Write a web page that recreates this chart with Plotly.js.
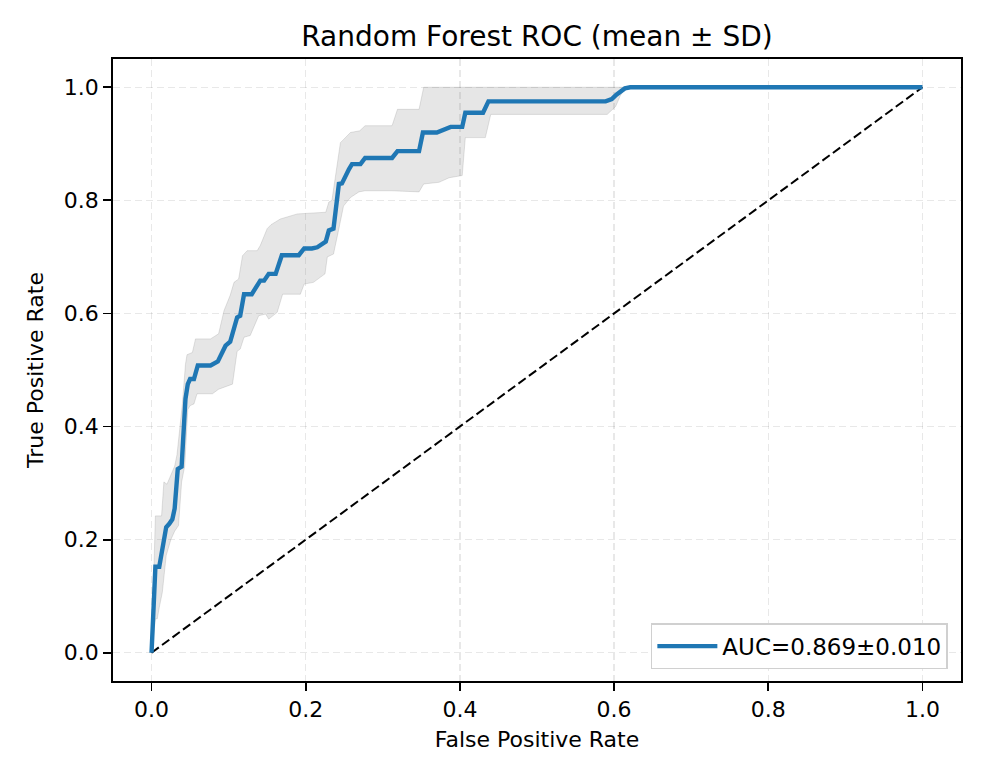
<!DOCTYPE html>
<html>
<head>
<meta charset="utf-8">
<script src="https://cdn.plot.ly/plotly-3.0.1.min.js"></script>
<style>
  html, body { margin: 0; padding: 0; background: white; }
  #chart { width: 986px; height: 781px; }
</style>
</head>
<body>
<div id="chart"></div>
<script>
// Random Forest ROC - mean curve with a +/- 1 SD band and the chance diagonal

// mean ROC curve
const meanFpr = [0, 0.005, 0.010, 0.015, 0.019, 0.023, 0.027, 0.030, 0.034, 0.039,
  0.044, 0.047, 0.050, 0.055, 0.060, 0.0765, 0.086, 0.096, 0.102, 0.111,
  0.115, 0.120, 0.130, 0.141, 0.146, 0.152, 0.161, 0.169, 0.191, 0.198,
  0.208, 0.215, 0.222, 0.226, 0.230, 0.236, 0.243, 0.247, 0.256, 0.260,
  0.271, 0.277, 0.312, 0.319, 0.347, 0.352, 0.370, 0.380, 0.388, 0.403,
  0.407, 0.430, 0.437, 0.589, 0.597, 0.603, 0.608, 0.614, 0.621, 1.0];
const meanTpr = [0, 0.152, 0.152, 0.190, 0.222, 0.228, 0.236, 0.255, 0.325, 0.329,
  0.449, 0.475, 0.484, 0.484, 0.508, 0.508, 0.515, 0.543, 0.550, 0.593,
  0.596, 0.634, 0.634, 0.658, 0.658, 0.670, 0.670, 0.703, 0.703, 0.715,
  0.715, 0.717, 0.722, 0.727, 0.747, 0.750, 0.829, 0.830, 0.855, 0.864,
  0.864, 0.875, 0.875, 0.887, 0.887, 0.920, 0.920, 0.925, 0.930, 0.930,
  0.955, 0.955, 0.975, 0.975, 0.979, 0.987, 0.993, 0.998, 1.0, 1.0];

// upper edge of the band (mean + SD, capped at 1)
const upperFpr = [0, 0.005, 0.013, 0.016, 0.020, 0.024, 0.030, 0.033, 0.040, 0.044,
  0.046, 0.053, 0.057, 0.0765, 0.087, 0.094, 0.102, 0.107, 0.113, 0.118,
  0.124, 0.137, 0.141, 0.150, 0.155, 0.167, 0.189, 0.226, 0.230, 0.234,
  0.243, 0.245, 0.258, 0.270, 0.277, 0.312, 0.319, 0.347, 0.353, 1.0];
const upperTpr = [0, 0.242, 0.242, 0.302, 0.298, 0.310, 0.330, 0.350, 0.440, 0.510,
  0.527, 0.531, 0.555, 0.555, 0.564, 0.605, 0.632, 0.655, 0.661, 0.702,
  0.711, 0.711, 0.720, 0.750, 0.757, 0.767, 0.776, 0.779, 0.797, 0.800,
  0.890, 0.902, 0.920, 0.923, 0.932, 0.932, 0.961, 0.961, 1.0, 1.0];

// lower edge of the band (mean - SD)
const lowerFpr = [0, 0.005, 0.0074, 0.010, 0.014, 0.019, 0.025, 0.030, 0.035, 0.039,
  0.043, 0.047, 0.050, 0.055, 0.059, 0.079, 0.087, 0.092, 0.105, 0.111,
  0.115, 0.120, 0.128, 0.139, 0.148, 0.152, 0.163, 0.170, 0.193, 0.198,
  0.210, 0.225, 0.228, 0.236, 0.243, 0.249, 0.258, 0.269, 0.277, 0.312,
  0.347, 0.353, 0.373, 0.386, 0.403, 0.407, 0.433, 0.440, 0.591, 0.602,
  0.608, 0.615, 1.0];
const lowerTpr = [0, 0.060, 0.060, 0.080, 0.107, 0.172, 0.200, 0.215, 0.225, 0.302,
  0.330, 0.430, 0.437, 0.440, 0.458, 0.458, 0.466, 0.468, 0.475, 0.533,
  0.537, 0.558, 0.561, 0.596, 0.599, 0.590, 0.602, 0.634, 0.634, 0.652,
  0.655, 0.670, 0.700, 0.705, 0.750, 0.790, 0.805, 0.815, 0.817, 0.817,
  0.815, 0.829, 0.832, 0.840, 0.844, 0.911, 0.911, 0.952, 0.952, 0.966,
  0.985, 1.0, 1.0];

const diagX = [0, 1];
const diagY = [0, 1];

const aucLabel = 'AUC=0.869±0.010';
const axisTicks = [0, 0.2, 0.4, 0.6, 0.8, 1.0];

// band polygon: upper edge left to right, then lower edge back
const bandX = upperFpr.concat(lowerFpr.slice().reverse());
const bandY = upperTpr.concat(lowerTpr.slice().reverse());

const band = {
  x: bandX,
  y: bandY,
  mode: 'lines',
  fill: 'toself',
  fillcolor: 'rgba(128,128,128,0.2)',
  line: { color: 'rgba(128,128,128,0.22)', width: 1 },
  showlegend: false,
  hoverinfo: 'skip'
};

const diag = {
  x: diagX,
  y: diagY,
  mode: 'lines',
  line: { color: 'black', width: 2, dash: '9px,4px' },
  showlegend: false,
  hoverinfo: 'skip'
};

const mean = {
  x: meanFpr,
  y: meanTpr,
  mode: 'lines',
  name: aucLabel,
  line: { color: '#1f77b4', width: 4.4 }
};

const axisCommon = {
  range: [-0.05, 1.05],
  tickvals: axisTicks,
  tickformat: '.1f',
  ticks: 'outside',
  ticklen: 8,
  tickwidth: 1.8,
  tickcolor: 'black',
  showline: true,
  linecolor: 'black',
  linewidth: 1.8,
  mirror: true,
  showgrid: true,
  gridcolor: 'rgba(0,0,0,0.09)',
  gridwidth: 1.5,
  griddash: '7px,4px',
  zeroline: false,
  tickfont: { size: 22, color: 'black' }
};

const layout = {
  width: 986,
  height: 781,
  margin: { l: 113, r: 25, t: 59, b: 100 },
  font: { family: 'DejaVu Sans', color: 'black' },
  paper_bgcolor: 'white',
  plot_bgcolor: 'white',
  title: {
    text: 'Random Forest ROC (mean ± SD)',
    font: { size: 28, color: 'black' },
    x: 0.5, xref: 'paper', xanchor: 'center',
    y: 1 - 36 / 781, yref: 'container', yanchor: 'middle'
  },
  xaxis: Object.assign({}, axisCommon, {
    title: { text: 'False Positive Rate', font: { size: 22 }, standoff: 10 }
  }),
  yaxis: Object.assign({}, axisCommon, {
    title: { text: 'True Positive Rate', font: { size: 22 }, standoff: 14 }
  }),
  showlegend: true,
  legend: {
    x: 0.9845, xanchor: 'right',
    y: 0.019, yanchor: 'bottom',
    bgcolor: 'white',
    bordercolor: '#d0d0d0',
    borderwidth: 1.5,
    itemwidth: 60,
    font: { size: 23, color: 'black' }
  }
};

Plotly.newPlot('chart', [band, diag, mean], layout,
  { displayModeBar: false, staticPlot: true });
</script>
</body>
</html>
